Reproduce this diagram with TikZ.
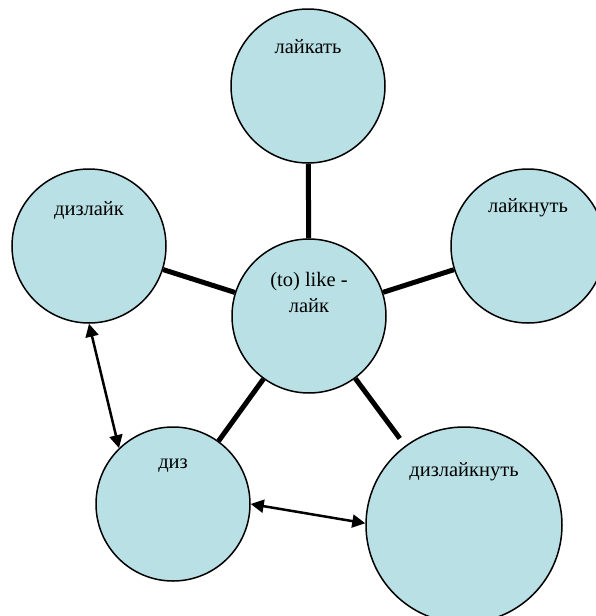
\documentclass[tikz,border=0pt]{standalone}
\usepackage{fontspec}
\setmainfont{Liberation Serif}
\usetikzlibrary{positioning,arrows.meta}
\definecolor{bubble}{RGB}{185,224,229}
\tikzset{
  bub/.style={circle,draw,line width=1.5pt,fill=bubble,minimum size=154pt,inner sep=0pt},
  word/.style={font=\fontsize{20.5}{26}\selectfont,align=center,inner sep=0pt},
  spoke/.style={line width=5pt},
  link/.style={line width=2.5pt,{Triangle[length=13pt,width=13pt]}-{Triangle[length=13pt,width=13pt]}}
}

\begin{document}
\begin{tikzpicture}[x=1pt,y=-1pt]
\useasboundingbox (0,0) rectangle (595,616);
% circles
\node[bub] (hub) at (309,316) {};
\node[bub] (likat) at (308,86) {};
\node[bub] (dislike) at (89,246) {};
\node[bub] (likenut) at (528,246) {};
\node[bub] (diz) at (173,504) {};
\node[bub,minimum size=196pt] (dislikenut) at (464,525) {};
% words
\node[word] (hubword) at ([yshift=24pt]hub.center) {(to) like -\\лайк};
\node[word] (likatword) at ([yshift=39pt]likat.center) {лайкать};
\node[word] (dislikeword) at ([yshift=36pt]dislike.center) {дизлайк};
\node[word] (likenutword) at ([yshift=38pt]likenut.center) {лайкнуть};
\node[word] (dizword) at ([yshift=38pt]diz.center) {диз};
\node[word] (dislikenutword) at ([yshift=53pt]dislikenut.center) {дизлайкнуть};
% spokes
\draw[spoke] (likat) -- (hub);
\draw[spoke] (dislike) -- (hub);
\draw[spoke] (likenut) -- (hub);
\draw[spoke] (diz) -- (hub);
\draw[spoke,shorten >=9pt] (hub) -- (dislikenut);
% arrows
\draw[link] (dislike.south) -- (diz.134);
\draw[link] (diz.east) -- (dislikenut.179);
\end{tikzpicture}
\end{document}
